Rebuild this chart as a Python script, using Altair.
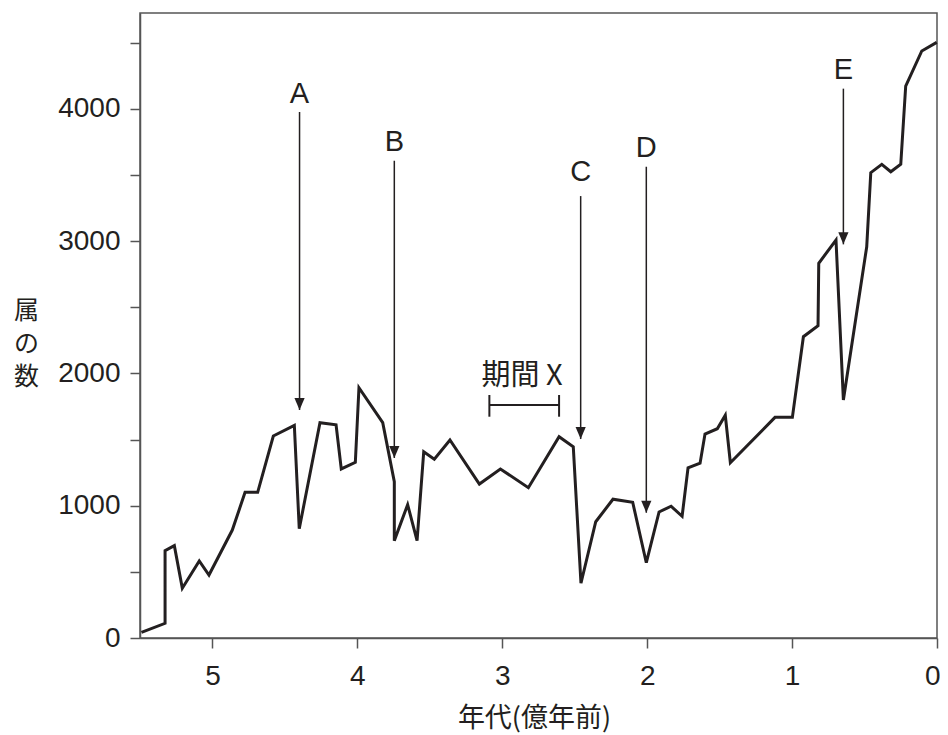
import altair as alt
import pandas as pd

# ---- data ----
ages = [5.49, 5.327, 5.327, 5.263, 5.208, 5.091, 5.024, 4.863, 4.775, 4.688,
        4.580, 4.435, 4.401, 4.258, 4.147, 4.111, 4.014, 3.989, 3.825, 3.745,
        3.745, 3.653, 3.588, 3.542, 3.469, 3.361, 3.158, 3.013, 2.820, 2.608,
        2.510, 2.457, 2.355, 2.236, 2.100, 2.006, 1.918, 1.835, 1.759, 1.718,
        1.635, 1.601, 1.516, 1.461, 1.426, 1.118, 0.998, 0.922, 0.821, 0.816,
        0.697, 0.646, 0.485, 0.457, 0.381, 0.319, 0.250, 0.216, 0.105, 0.002]
genera = [43, 111, 660, 698, 376, 582, 476, 816, 1101, 1101,
          1527, 1608, 826, 1628, 1612, 1278, 1328, 1892, 1628, 1182,
          736, 1008, 736, 1408, 1351, 1497, 1164, 1278, 1136, 1522,
          1446, 414, 879, 1049, 1026, 569, 953, 996, 920, 1287,
          1321, 1542, 1582, 1684, 1325, 1668, 1668, 2278, 2361, 2833,
          3009, 1799, 2958, 3518, 3581, 3525, 3581, 4173, 4438, 4503]

arrow_labels = ["A", "B", "C", "D", "E"]
arrow_age = [4.399, 3.745, 2.459, 2.006, 0.646]
arrow_top = [3976, 3608, 3341, 3563, 4153]
arrow_tip = [1724, 1361, 1504, 947, 2976]
label_val = [4128, 3765, 3538, 3723, 4309]

period_start = 3.089
period_end = 2.608
period_val = 1761
period_cap = [1673, 1837]
period_label = "期間 X"
period_label_age = 2.864
period_label_val = 1996

x_ticks = [0, 1, 2, 3, 4, 5]
y_ticks = [0, 500, 1000, 1500, 2000, 2500, 3000, 3500, 4000, 4500]

INK = "#231f20"
AXIS = "#555555"
NUM_FONT = "Liberation Sans, Arial, sans-serif"
LAT_FONT = "Liberation Sans, Arial, sans-serif"
CJK_FONT = "Noto Sans CJK JP"

series = pd.DataFrame({"age": ages, "n": genera})
arrows = pd.DataFrame({"label": arrow_labels, "age": arrow_age, "top": arrow_top,
                       "tip": arrow_tip, "ly": label_val})
bracket = pd.DataFrame({"a1": [period_start], "a2": [period_end], "v": [period_val]})
caps = pd.DataFrame({"a": [period_start, period_end],
                     "v1": [period_cap[0]] * 2, "v2": [period_cap[1]] * 2})
ptext = pd.DataFrame({"a": [period_label_age], "v": [period_label_val], "t": [period_label]})

xs = alt.Scale(domain=[5.5, 0], nice=False, zero=False)
ys = alt.Scale(domain=[0, 4725], nice=False, zero=False)

x_axis = alt.Axis(values=x_ticks, format="d", grid=False, tickSize=10, tickWidth=1.5,
                  tickColor=AXIS, domainColor=AXIS, domainWidth=1.5,
                  labelFont=NUM_FONT, labelFontSize=28, labelColor=INK, labelPadding=14,
                  labelFlush=True, labelFlushOffset=3, labelOverlap=False,
                  title="年代(億年前)", titleFont=CJK_FONT, titleFontSize=27,
                  titleFontWeight="normal", titleColor=INK, titleBaseline="top",
                  titleX=394, titleY=67)
y_axis = alt.Axis(values=y_ticks, labelExpr="datum.value % 1000 == 0 ? datum.label : ''",
                  format="d", grid=False, tickSize=10, tickWidth=1.5, tickColor=AXIS,
                  domainColor=AXIS, domainWidth=1.5,
                  labelFont=NUM_FONT, labelFontSize=28, labelColor=INK, labelPadding=10,
                  labelBaseline="middle", labelFlush=False, labelOverlap=False,
                  title=["属", "の", "数"], titleFont=CJK_FONT, titleFontSize=25,
                  titleFontWeight="normal", titleColor=INK, titleAngle=0,
                  titleAlign="center", titleBaseline="top", titleLineHeight=33,
                  titleX=-114, titleY=285)


def X(field):
    return alt.X(field, scale=xs, axis=x_axis)


def Y(field):
    return alt.Y(field, scale=ys, axis=y_axis)


line = alt.Chart(series).mark_line(color=INK, strokeWidth=3, strokeJoin="miter").encode(
    x=X("age:Q"), y=Y("n:Q"),
)

arrow_lines = alt.Chart(arrows).mark_rule(color=INK, strokeWidth=1.5).encode(
    x=X("age:Q"), y=Y("top:Q"), y2="tip:Q",
)

heads = alt.Chart(arrows).mark_point(
    shape="M -0.85 -2 L 0.85 -2 L 0 0 Z", size=144, filled=True, opacity=1, color=INK,
    strokeWidth=0).encode(
    x=X("age:Q"), y=Y("tip:Q"),
)

labels = alt.Chart(arrows).mark_text(font=LAT_FONT, fontSize=29, color=INK,
                                     baseline="middle", align="center", dy=2).encode(
    x=X("age:Q"), y=Y("ly:Q"), text="label:N",
)

br = alt.Chart(bracket).mark_rule(color=INK, strokeWidth=2).encode(
    x=X("a1:Q"), x2="a2:Q", y=Y("v:Q"),
)

cp = alt.Chart(caps).mark_rule(color=INK, strokeWidth=2).encode(
    x=X("a:Q"), y=Y("v1:Q"), y2="v2:Q",
)

pt = alt.Chart(ptext).mark_text(font=CJK_FONT, fontSize=29, color=INK,
                                baseline="middle", align="center", dy=2).encode(
    x=X("a:Q"), y=Y("v:Q"), text="t:N",
)

chart = alt.layer(line, arrow_lines, heads, labels, br, cp, pt).properties(
    width=797, height=625,
    autosize=alt.AutoSizeParams(type="none"),
    padding={"left": 132, "top": 5, "right": 3, "bottom": 97},
    background="white",
).configure_view(stroke=AXIS, strokeWidth=1.5)

chart.save("out.html", embed_options={"renderer": "svg", "actions": False})
